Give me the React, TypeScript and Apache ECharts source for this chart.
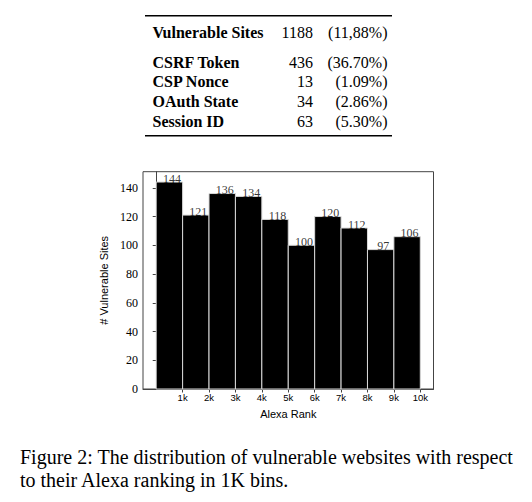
import React, { useEffect, useRef } from "react";
import * as echarts from "echarts";

// Table data
const tableLabels = ["Vulnerable Sites", "CSRF Token", "CSP Nonce", "OAuth State", "Session ID"];
const tableCounts = ["1188", "436", "13", "34", "63"];
const tablePercents = ["(11,88%)", "(36.70%)", "(1.09%)", "(2.86%)", "(5.30%)"];

// Histogram data (Alexa rank bins of 1K)
const binStarts = [0, 1000, 2000, 3000, 4000, 5000, 6000, 7000, 8000, 9000];
const binWidth = 1000;
const binValues = [144, 121, 136, 134, 118, 100, 120, 112, 97, 106];
const xTickValues = [1000, 2000, 3000, 4000, 5000, 6000, 7000, 8000, 9000, 10000];
const yTickValues = [0, 20, 40, 60, 80, 100, 120, 140];

const captionLines = [
  "Figure 2: The distribution of vulnerable websites with respect",
  "to their Alexa ranking in 1K bins.",
];

export default function App() {
  const ref = useRef<HTMLDivElement>(null);

  useEffect(() => {
    if (!ref.current) return;
    const chart = echarts.init(ref.current, undefined, { renderer: "svg" });

    const rowY = [32.9, 62.3, 81.9, 101.9, 121.9];
    const serif = '"Liberation Serif", "Times New Roman", serif';
    const sans = '"Liberation Sans", Arial, sans-serif';
    const tableGraphics: any[] = [
      { type: "rect", shape: { x: 145, y: 15, width: 247, height: 1.6 }, style: { fill: "#000" } },
      { type: "rect", shape: { x: 145, y: 135, width: 247, height: 1.6 }, style: { fill: "#000" } },
    ];
    tableLabels.forEach((lab, i) => {
      tableGraphics.push({
        type: "text",
        x: 152.5,
        y: rowY[i],
        style: { text: lab, font: `bold 16px ${serif}`, fill: "#000", align: "left", verticalAlign: "middle" },
      });
      tableGraphics.push({
        type: "text",
        x: 313,
        y: rowY[i],
        style: { text: tableCounts[i], font: `16px ${serif}`, fill: "#000", align: "right", verticalAlign: "middle" },
      });
      tableGraphics.push({
        type: "text",
        x: 387.5,
        y: rowY[i],
        style: { text: tablePercents[i], font: `16px ${serif}`, fill: "#000", align: "right", verticalAlign: "middle" },
      });
    });
    captionLines.forEach((line, i) => {
      tableGraphics.push({
        type: "text",
        x: 20,
        y: 456.5 + i * 23.5,
        style: { text: line, font: `20px ${serif}`, fill: "#000", align: "left", verticalAlign: "middle" },
      });
    });

    const frameColor = "#444";

    chart.setOption({
      animation: false,
      backgroundColor: "#fff",
      grid: {
        left: 143,
        right: 98.5,
        top: 171.7,
        bottom: 113,
        show: true,
        borderColor: frameColor,
        borderWidth: 1,
        backgroundColor: "transparent",
      },
      xAxis: {
        type: "value",
        min: -500,
        max: 10500,
        name: "Alexa Rank",
        nameLocation: "middle",
        nameGap: 19,
        nameTextStyle: { fontFamily: sans, fontSize: 11, color: "#000" },
        axisLine: { show: true, lineStyle: { color: frameColor, width: 1 } },
        axisTick: { show: true, inside: false, length: 3.5, customValues: xTickValues, lineStyle: { color: frameColor } },
        axisLabel: {
          customValues: xTickValues,
          formatter: (v: number) => `${v / 1000}k`,
          fontFamily: sans,
          fontSize: 9.5,
          color: "#000",
          margin: 3,
        },
        splitLine: { show: false },
      },
      yAxis: {
        type: "value",
        min: 0,
        max: 151.2,
        name: "# Vulnerable Sites",
        nameLocation: "middle",
        nameGap: 27,
        nameTextStyle: { fontFamily: sans, fontSize: 11, color: "#000" },
        axisLine: { show: true, lineStyle: { color: frameColor, width: 1 } },
        axisTick: { show: true, inside: false, length: 3.5, customValues: yTickValues, lineStyle: { color: frameColor } },
        axisLabel: {
          customValues: yTickValues,
          fontFamily: serif,
          fontSize: 12,
          color: "#000",
          margin: 5,
        },
        splitLine: { show: false },
      },
      graphic: tableGraphics,
      series: [
        {
          type: "custom",
          clip: false,
          encode: { x: [0, 1], y: 2 },
          data: binStarts.map((s, i) => [s, s + binWidth, binValues[i]]),
          renderItem: (params: any, api: any) => {
            const x0 = api.value(0);
            const x1 = api.value(1);
            const v = api.value(2);
            const p0 = api.coord([x0, 0]);
            const p1 = api.coord([x1, v]);
            return {
              type: "rect",
              shape: { x: p0[0], y: p1[1], width: p1[0] - p0[0], height: p0[1] - p1[1] },
              style: { fill: "#000", stroke: "#d8d8d8", lineWidth: 1 },
            };
          },
        },
        {
          type: "scatter",
          symbolSize: 0,
          silent: true,
          z: 5,
          data: binStarts.map((s, i) => [s + binWidth / 2, binValues[i]]),
          itemStyle: { color: "#000" },
          label: {
            show: true,
            position: "top",
            distance: 0,
            offset: [2.5, 2.5],
            formatter: (p: any) => String(p.value[1]),
            fontFamily: serif,
            fontSize: 12,
            color: "#000",
          },
        },
      ],
    });

    return () => chart.dispose();
  }, []);

  return (
    <div
      ref={ref}
      style={{ position: "absolute", left: 0, top: 0, width: 532, height: 502, background: "#fff" }}
    />
  );
}
